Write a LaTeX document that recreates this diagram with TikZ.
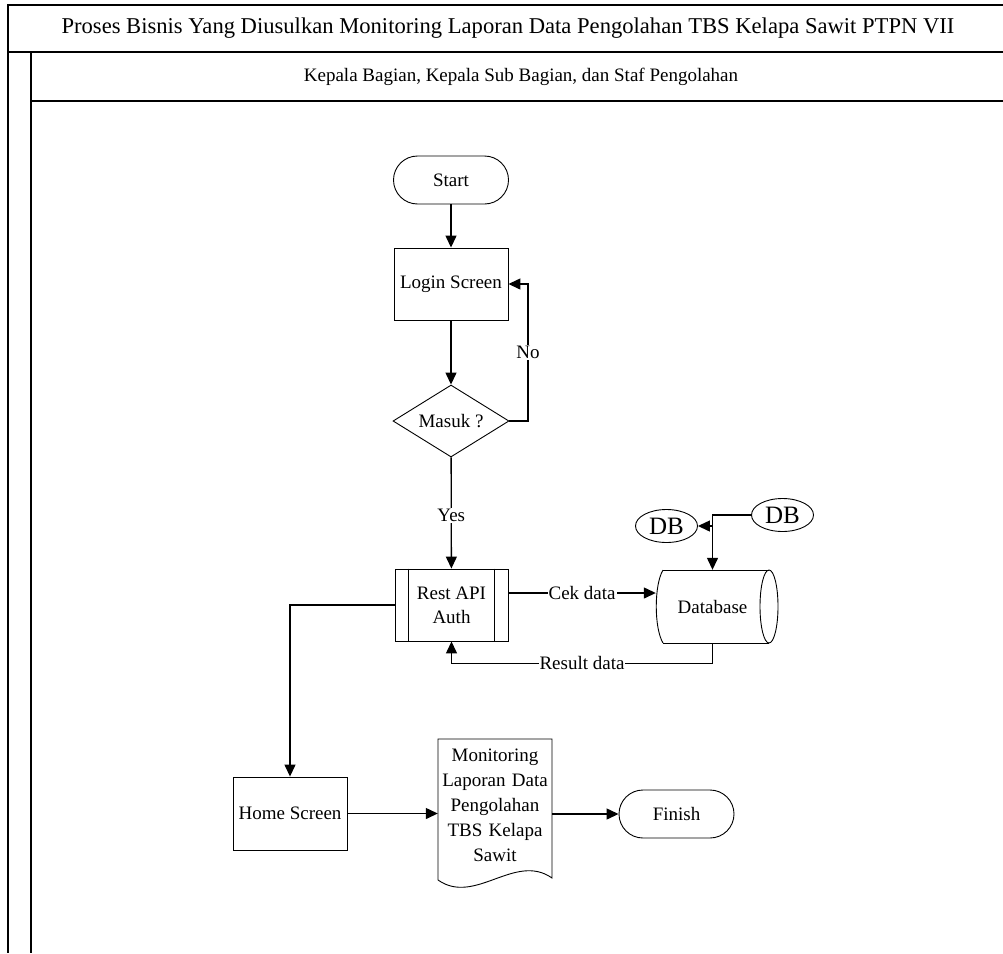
\documentclass[tikz,border=0pt]{standalone}
\usepackage{fontspec}
\setmainfont{Liberation Serif}
\usetikzlibrary{arrows.meta,shapes.geometric,calc}
\begin{document}
\begin{tikzpicture}[x=1pt,y=-1pt,
  every node/.style={font=\fontsize{19}{24}\selectfont},
  ln/.style={line width=1.3pt},
  arr/.style={ln,-{Triangle[length=12pt,width=11pt]}},
  shp/.style={line width=0.9pt},
  term/.style={draw,shp,rounded corners=24pt,minimum width=115pt,minimum height=48pt,inner sep=0pt},
  proc/.style={draw,shp,minimum width=114pt,minimum height=72pt,inner sep=0pt,align=center},
  dec/.style={draw,shp,diamond,minimum width=116pt,minimum height=72pt,inner sep=0pt,aspect=1.6},
  dbe/.style={draw,shp,ellipse,minimum width=62pt,minimum height=33pt,inner sep=0pt,font=\fontsize{25}{25}\selectfont},
  lbl/.style={fill=white,inner sep=1pt},
  frame/.style={line width=1.3pt}]
\useasboundingbox (0,0) rectangle (1003,953);
% frame
\draw[frame] (1003,5) -- (8,5) -- (8,953);
\draw[frame] (8,52) -- (1003,52);
\draw[frame] (31,52) -- (31,953);
\draw[frame] (31,101) -- (1003,101);
\node[font=\fontsize{22.6}{26}\selectfont] (title) at (508,28) {Proses Bisnis Yang Diusulkan Monitoring Laporan Data Pengolahan TBS Kelapa Sawit PTPN VII};
\node (lane) at (521,77) {Kepala Bagian, Kepala Sub Bagian, dan Staf Pengolahan};
% nodes
\node[term] (start) at (451,180) {Start};
\node[proc] (login) at (451,284) {Login Screen};
\node[dec] (masuk) at (451,421) {Masuk ?};
\node[proc,minimum width=113pt] (api) at (451.5,605) {Rest API\\Auth};
\draw[shp] ($(api.north west)+(14,0)$) -- ($(api.south west)+(14,0)$);
\draw[shp] ($(api.north east)+(-14,0)$) -- ($(api.south east)+(-14,0)$);
\node[minimum width=113pt,minimum height=73pt,inner sep=0pt] (db) at (712.5,606.5) {Database};
\draw[shp] (663,570) -- (769,570);
\draw[shp] (663,643) -- (769,643);
\draw[shp] (663,570) .. controls (654,585) and (654,628) .. (663,643);
\draw[shp] (769,606.5) ellipse [x radius=9, y radius=36.5];
\node[dbe] (dbl) at (666.5,526) {DB};
\node[dbe] (dbr) at (782.5,515) {DB};
\node[proc,minimum height=73pt] (home) at (290,813.5) {Home Screen};
\node[minimum width=114pt,minimum height=132pt,inner sep=0pt,align=center,text width=112pt,font=\fontsize{19}{25}\selectfont] (doc) at (495,805) {Monitoring\\Laporan Data\\Pengolahan\\TBS Kelapa\\Sawit};
\draw[shp] (438,880) -- (438,739) -- (552,739) -- (552,878) .. controls (515,852) and (475,906) .. (438,880);
\node[term] (finish) at (676.5,814) {Finish};
% connectors
\draw[arr] (start) -- (login);
\draw[arr] (login) -- (masuk);
\coordinate (nocorner) at (528,284);
\draw[arr] (masuk.east) -| node[lbl,pos=0.75]{No} (nocorner) -- (login.east);
\draw[arr] (masuk) -- node[lbl,pos=0.52]{Yes} (api);
\draw[arr] ($(api.east)+(0,-12)$) -- node[lbl]{Cek data} ($(db.west)+(0,-13.5)$);
\draw[arr] (db.south) |- node[lbl,pos=0.75]{Result data} ($(api.south)+(0,22)$) -- (api.south);
\draw[arr] (api.west) -| (home.north);
\draw[arr] (dbr.west) -| (db.north);
\draw[arr] (dbl.east -| db.north) -- (dbl.east);
\draw[arr] (home.east) -- (doc.west |- home.east);
\draw[ln] (doc.east |- finish.west) -- (552,814);
\draw[arr] (552,814) -- (finish.west);
\end{tikzpicture}
\end{document}
